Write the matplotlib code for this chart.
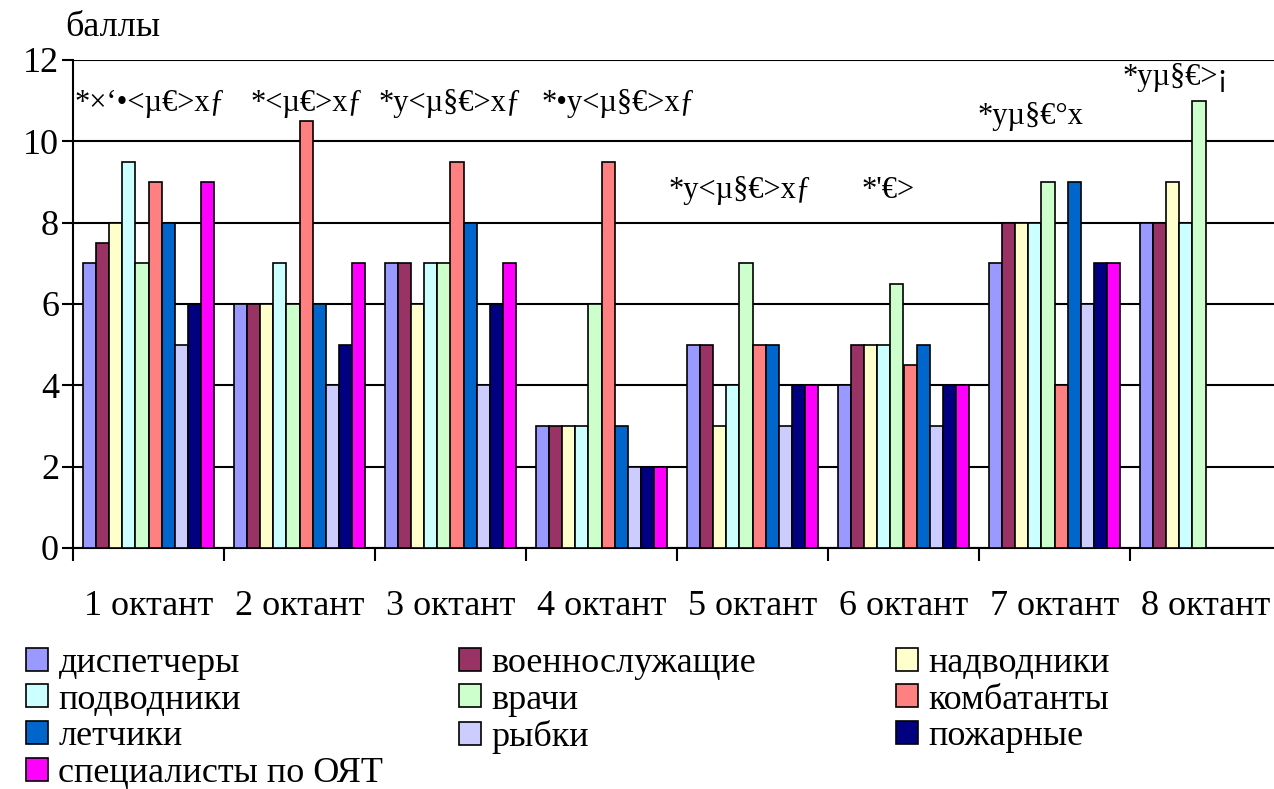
import numpy as np
import matplotlib
matplotlib.use("Agg")
import matplotlib.pyplot as plt
from matplotlib.patches import Patch

plt.rcParams['font.family'] = ['Liberation Serif', 'DejaVu Serif']

octants = ["1 октант", "2 октант", "3 октант", "4 октант",
           "5 октант", "6 октант", "7 октант", "8 октант"]

nan = np.nan
dispatchers = [7, 6, 7, 3, 5, 4, 7, 8]
military = [7.5, 6, 7, 3, 5, 5, 8, 8]
surface = [8, 6, 6, 3, 3, 5, 8, 9]
submariners = [9.5, 7, 7, 3, 4, 5, 8, 8]
doctors = [7, 6, 7, 6, 7, 6.5, 9, 11]
combatants = [9, 10.5, 9.5, 9.5, 5, 4.5, 4, nan]
pilots = [8, 6, 8, 3, 5, 5, 9, nan]
fish = [5, 4, 4, 2, 3, 3, 6, nan]
firemen = [6, 5, 6, 2, 4, 4, 7, nan]
specialists = [9, 7, 7, 2, 4, 4, 7, nan]

series_names = ["диспетчеры", "военнослужащие", "надводники", "подводники",
                "врачи", "комбатанты", "летчики", "рыбки", "пожарные",
                "специалисты по ОЯТ"]
series = [dispatchers, military, surface, submariners, doctors, combatants,
          pilots, fish, firemen, specialists]
colors = ["#9999FF", "#993366", "#FFFFCC", "#CCFFFF", "#CCFFCC", "#FF8080",
          "#0066CC", "#CCCCFF", "#000080", "#FF00FF"]

# garbled annotation strings above groups (position in group units, value)
notes = ["*×‘•<µ€>xƒ", "*<µ€>xƒ", "*y<µ§€>xƒ", "*•y<µ§€>xƒ",
         "*y<µ§€>xƒ", "*'€>", "*yµ§€°x", "*yµ§€>¡"]
note_x = [0.01, 1.05, 2.0, 3.11, 3.92, 4.90, 5.84, 6.80]
note_y = [10.94, 10.94, 10.94, 10.94, 8.8, 8.8, 10.6, 11.58]

fig = plt.figure(figsize=(12.74, 7.89), dpi=100)
ax = fig.add_axes([73 / 1274, 1 - 548 / 789, (1281 - 73) / 1274, (548 - 60) / 789])

x = np.arange(len(octants))
n = len(series)
w = 0.0874
for i, (vals, c) in enumerate(zip(series, colors)):
    ax.bar(x + (i - (n - 1) / 2) * w, vals, width=w, color=c,
           edgecolor="black", linewidth=1.2, zorder=3)

for t, tx, ty in zip(notes, note_x, note_y):
    ax.text(tx, ty, t, ha="center", va="center", fontsize=22, zorder=4)

ax.set_xlim(-0.5, 7.5)
ax.set_ylim(0, 12)
ax.set_yticks(np.arange(0, 13, 2))
ax.set_xticks(x)
ax.set_xticklabels(octants)
ax.set_xticks(np.arange(-0.5, 8, 1), minor=True)
ax.tick_params(axis="x", which="major", length=0, pad=30, labelsize=26)
ax.tick_params(axis="x", which="minor", length=9, width=1.5, direction="out")
ax.tick_params(axis="y", length=8, width=1.5, pad=2, labelsize=26)
ax.yaxis.grid(True, color="black", linewidth=1.5, zorder=0)
ax.set_axisbelow(True)
for s in ["right", "top"]:
    ax.spines[s].set_visible(False)
for s in ["left", "bottom"]:
    ax.spines[s].set_linewidth(1.5)

fig.text(65 / 1274, 1 - 28 / 789, "баллы", ha="left", va="center", fontsize=26)

handles = [Patch(facecolor=c, edgecolor="black", linewidth=1.2) for c in colors]
cols = [[0, 3, 6, 9], [1, 4, 7], [2, 5, 8]]
col_x = [26 / 1274, 459 / 1274, 896 / 1274]
for idx, cx in zip(cols, col_x):
    leg = fig.legend([handles[k] for k in idx], [series_names[k] for k in idx],
                     loc="upper left", bbox_to_anchor=(cx, 1 - 647 / 789),
                     frameon=False, fontsize=26, handlelength=0.6,
                     handleheight=0.6, handletextpad=0.3, labelspacing=0.1,
                     borderpad=0, borderaxespad=0)

fig.savefig("out.png", dpi=100)
